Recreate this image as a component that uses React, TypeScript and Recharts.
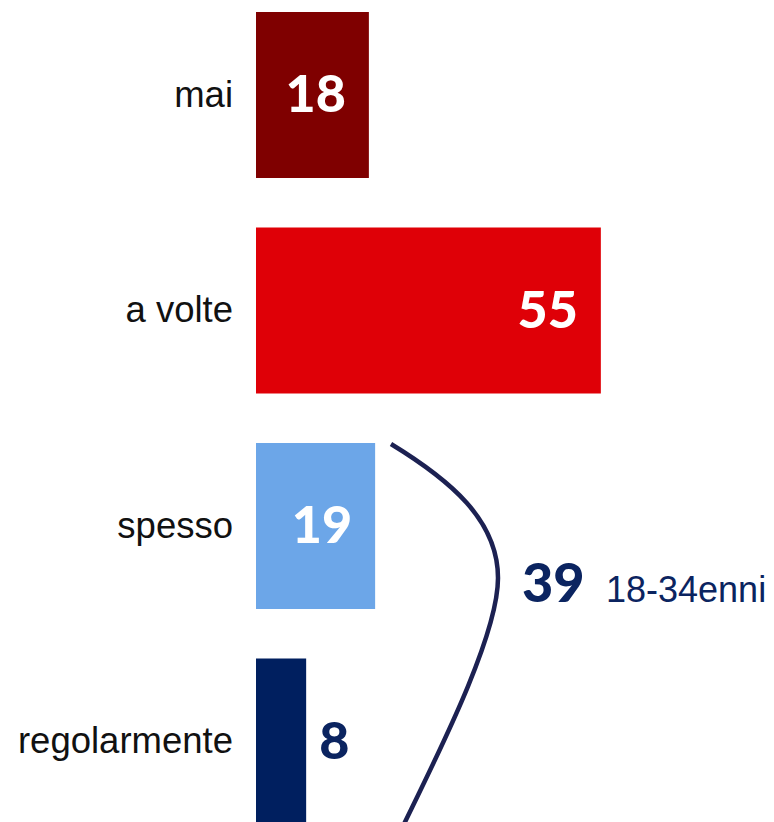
import { BarChart, Bar, XAxis, YAxis, Cell, LabelList } from 'recharts';

const categories = ['mai', 'a volte', 'spesso', 'regolarmente'];
const values = [18, 55, 19, 8];
const groupValue = 39;
const groupLabel = '18-34enni';

const barColors = ['#7f0000', '#df0007', '#6ca6e8', '#001f5f'];
const NAVY = '#0b2460';

const data = categories.map((name, i) => ({ name, value: values[i] }));

const CategoryTick = (props: any) => {
  const { x, y, payload } = props;
  return (
    <text
      x={Number(x) - 15}
      y={Number(y) + 12}
      textAnchor="end"
      fill="#111"
      fontSize={36.5}
      fontFamily="'Liberation Sans', Arial, sans-serif"
    >
      {payload.value}
    </text>
  );
};

const renderValueLabel = (props: any) => {
  const x = Number(props.x);
  const y = Number(props.y);
  const w = Number(props.width);
  const h = Number(props.height);
  const v = Number(props.value);
  const inside = v >= 15;
  return (
    <text
      x={inside ? x + w - 23 : x + w + 13}
      y={y + h / 2 + 17}
      textAnchor={inside ? 'end' : 'start'}
      fill={inside ? '#fff' : NAVY}
      fontSize={52}
      fontWeight={900}
      fontFamily="Lato, sans-serif"
    >
      {v}
    </text>
  );
};

// bracket curve + group total, drawn off the "spesso" bar
const renderBrace = (props: any) => {
  if (props.index !== 2) return null;
  const x = Number(props.x);
  const y = Number(props.y);
  const d =
    `M ${x + 135} ${y + 1} ` +
    `C ${x + 194} ${y + 37} ${x + 242} ${y + 77} ${x + 242} ${y + 135} ` +
    `C ${x + 242} ${y + 192} ${x + 184} ${y + 307} ${x + 149} ${y + 379} ` +
    `L ${x + 139} ${y + 400}`;
  return (
    <g>
      <path d={d} fill="none" stroke="#1c2152" strokeWidth={4.5} />
      <text
        x={x + 266}
        y={y + 159}
        fill={NAVY}
        fontSize={54}
        fontWeight={900}
        fontFamily="Lato, sans-serif"
      >
        {groupValue}
      </text>
      <text
        x={x + 350}
        y={y + 159}
        fill={NAVY}
        fontSize={36}
        fontFamily="'Liberation Sans', Arial, sans-serif"
      >
        {groupLabel}
      </text>
    </g>
  );
};

export default function App() {
  return (
    <div style={{ position: 'relative', width: 774, height: 822, overflow: 'hidden', background: '#fff' }}>
      <style>{'body{margin:0}'}</style>
      <BarChart
        width={883}
        height={862}
        layout="vertical"
        data={data}
        margin={{ top: 0, right: 0, bottom: 0, left: 0 }}
        style={{ position: 'absolute', top: -13, left: 0 }}
      >
        <XAxis type="number" domain={[0, 100]} hide />
        <YAxis
          type="category"
          dataKey="name"
          width={256}
          axisLine={false}
          tickLine={false}
          tick={<CategoryTick />}
        />
        <Bar dataKey="value" barSize={166} isAnimationActive={false}>
          {data.map((d, i) => (
            <Cell key={d.name} fill={barColors[i]} />
          ))}
          <LabelList dataKey="value" content={renderValueLabel} />
          <LabelList dataKey="value" content={renderBrace} />
        </Bar>
      </BarChart>
    </div>
  );
}
